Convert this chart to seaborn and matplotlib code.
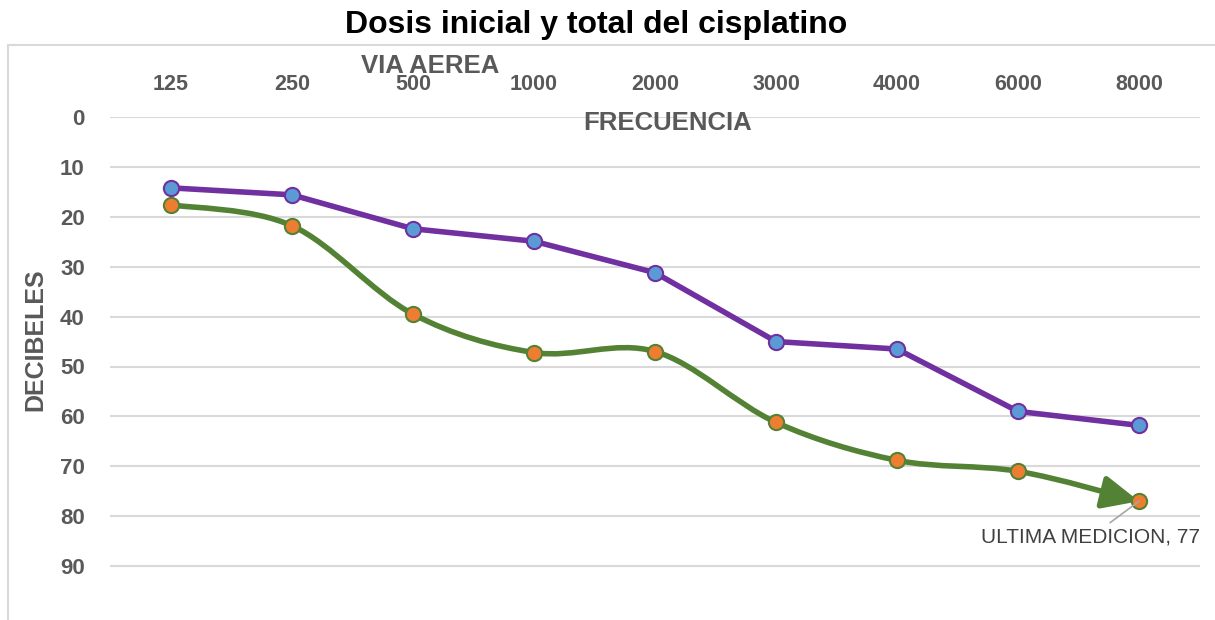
import numpy as np
import pandas as pd
import matplotlib
matplotlib.use("Agg")
import matplotlib.pyplot as plt
from matplotlib.path import Path
from matplotlib.patches import FancyArrowPatch, Rectangle
import seaborn as sns

# data
frecuencias = ["125", "250", "500", "1000", "2000", "3000", "4000", "6000", "8000"]
dosis_inicial = [14.2, 15.6, 22.4, 24.9, 31.2, 45.0, 46.5, 59.0, 61.8]
dosis_total = [17.6, 21.8, 39.5, 47.2, 47.0, 61.2, 68.8, 71.0, 77.0]
y_ticks = [0, 10, 20, 30, 40, 50, 60, 70, 80, 90]

GRIS = "#595959"
MORADO = "#7030A0"
VERDE = "#548235"
AZUL = "#5B9BD5"
NARANJA = "#ED7D31"

sns.set_theme(style="white")
plt.rcParams["font.family"] = ["Liberation Sans", "DejaVu Sans"]

df = pd.DataFrame({
    "pos": np.arange(len(frecuencias)),
    "inicial": dosis_inicial,
    "total": dosis_total,
})

W, H = 1215, 620
fig = plt.figure(figsize=(W / 100, H / 100), dpi=100)
ax = fig.add_axes([110.5 / W, 1 - 616 / H, 1089 / W, 499 / H])

# chart area frame (light grey, cropped at right/bottom)
fig.patches.append(Rectangle((8 / W, -0.05), 1.2, (H - 45) / H + 0.05,
                             transform=fig.transFigure, fill=False,
                             edgecolor="#d9d9d9", lw=1.5, clip_on=False))

# purple straight line
sns.lineplot(data=df, x="pos", y="inicial", color=MORADO, lw=4,
             solid_joinstyle="round", ax=ax, zorder=3)


# green smoothed line (Catmull-Rom style bezier like Excel) with arrow head
def smooth_path(xs, ys):
    pts = np.column_stack([xs, ys]).astype(float)
    verts = [pts[0]]
    codes = [Path.MOVETO]
    n = len(pts)
    for i in range(n - 1):
        p0 = pts[max(i - 1, 0)]
        p1 = pts[i]
        p2 = pts[i + 1]
        p3 = pts[min(i + 2, n - 1)]
        c1 = p1 + (p2 - p0) / 6.0
        c2 = p2 - (p3 - p1) / 6.0
        verts += [c1, c2, p2]
        codes += [Path.CURVE4] * 3
    return Path(verts, codes)


arrow = FancyArrowPatch(path=smooth_path(df["pos"], df["total"]),
                        arrowstyle="-|>,head_length=1.1,head_width=0.5",
                        mutation_scale=20, color=VERDE, lw=4,
                        joinstyle="round", capstyle="round",
                        transform=ax.transData, zorder=3)
ax.add_patch(arrow)

sns.scatterplot(data=df, x="pos", y="inicial", s=120, color=AZUL,
                edgecolor=MORADO, linewidth=1.5, ax=ax, zorder=4)
sns.scatterplot(data=df, x="pos", y="total", s=120, color=NARANJA,
                edgecolor=VERDE, linewidth=1.5, ax=ax, zorder=4)

ax.set_xlim(-0.5, len(frecuencias) - 0.5)
ax.set_ylim(100, 0)
ax.xaxis.tick_top()
ax.set_xticks(df["pos"])
ax.set_xticklabels(frecuencias)
ax.set_yticks(y_ticks)
ax.set_yticklabels([str(v) for v in y_ticks])
ax.tick_params(axis="x", length=0, pad=16, labelsize=15.5, labelcolor=GRIS)
ax.tick_params(axis="y", length=0, pad=18.5, labelsize=16, labelcolor=GRIS)
for lab in ax.get_xticklabels() + ax.get_yticklabels():
    lab.set_fontweight("bold")
ax.grid(axis="y", color="#d9d9d9", lw=1.5)
ax.grid(axis="x", visible=False)
ax.set_xlabel("")
ax.set_ylabel("")
sns.despine(ax=ax, left=True, bottom=True, top=True, right=True)
ax.set_facecolor("none")

# last point label
ax.annotate("ULTIMA MEDICION, 77", xy=(8, dosis_total[-1]), xytext=(7.6, 84.2),
            ha="center", va="center", fontsize=15, color="#404040",
            arrowprops=dict(arrowstyle="-", color="#a6a6a6", lw=1.2,
                            shrinkA=2, shrinkB=0), zorder=5)

fig.text(596 / W, 1 - 25 / H, "Dosis inicial y total del cisplatino",
         ha="center", va="center", fontsize=23, fontweight="bold", color="black")
fig.text(430 / W, 1 - 66 / H, "VIA AEREA", ha="center", va="center",
         fontsize=18.5, fontweight="bold", color=GRIS)
fig.text(668 / W, 1 - 123 / H, "FRECUENCIA", ha="center", va="center",
         fontsize=18.5, fontweight="bold", color=GRIS, zorder=6)
fig.text(35 / W, 1 - 340 / H, "DECIBELES", ha="center", va="center",
         rotation=90, fontsize=18, fontweight="bold", color=GRIS)

fig.savefig("out.png", dpi=100)
